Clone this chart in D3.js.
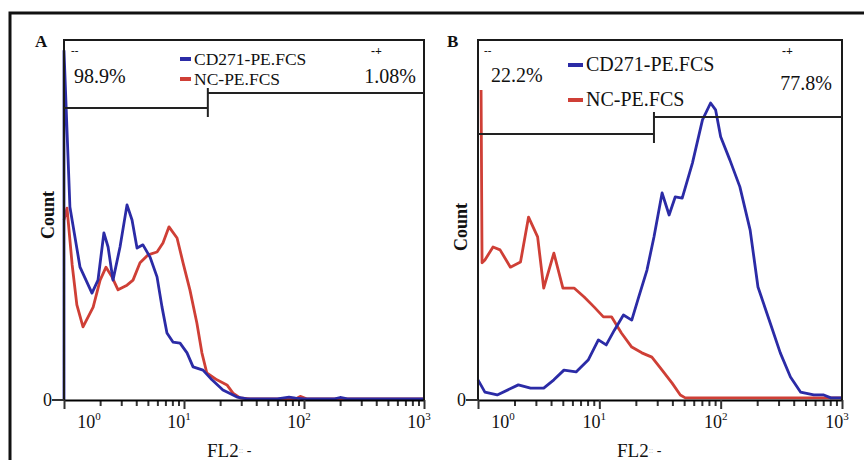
<!DOCTYPE html>
<html>
<head>
<meta charset="utf-8">
<script src="https://cdn.jsdelivr.net/npm/d3@7"></script>
<style>
  body { margin: 0; background: #fff; }
  svg text { font-family: "Liberation Serif", "Times New Roman", serif; fill: #111; }
</style>
</head>
<body>
<svg id="chart" width="864" height="460"></svg>
<script>
// --- data (FL2 value, count in % of axis height) ---
const seriesNames = ["CD271-PE.FCS", "NC-PE.FCS"];
const seriesColors = ["#2b2ba6", "#cf3f36"];
const xTickValues = [1, 10, 100, 1000];

// panel A
const blueA_x = [1, 1, 1.12, 1.36, 1.71, 1.92, 2.15, 2.33, 2.56, 2.93, 3.35, 3.69, 4.06, 4.55, 5.21, 5.96, 6.56, 7.21, 8.09, 9.27, 10.6, 11.9, 14.4, 17.1, 21.1, 27.7, 33.5, 60, 75, 85, 100, 180, 200, 230, 1000];
const blueA_y = [0, 97, 53.6, 36.9, 29.7, 33.3, 46.4, 42.5, 33.3, 42.5, 54.2, 50, 42.2, 43.1, 39.7, 34.2, 25.8, 18.6, 16.1, 15.8, 13.1, 9.2, 8.3, 5.6, 2.8, 0.8, 0.3, 0.3, 0.8, 0.5, 0.3, 0.3, 0.7, 0.3, 0.3];
const redA_x = [1, 1.06, 1.17, 1.28, 1.44, 1.75, 2.0, 2.24, 2.51, 2.82, 3.35, 3.76, 4.3, 5.01, 5.96, 6.68, 7.5, 8.75, 9.82, 11.2, 12.8, 14.1, 15.5, 18.8, 22.8, 25.6, 29.3, 35.5, 85, 93, 105, 1000];
const redA_y = [50, 53.3, 37.5, 26.4, 20.3, 25.8, 33.3, 36.9, 34.2, 30.6, 31.9, 33.3, 38.1, 40.3, 41.1, 43.6, 48.1, 45, 38.1, 30.6, 21.4, 13.1, 7.5, 5.6, 4.2, 1.9, 0.6, 0.3, 0.3, 1.0, 0.3, 0.3];

// panel B
const blueB_x = [1, 1.14, 1.44, 2.15, 2.71, 3.48, 4.22, 5.11, 6.43, 8.09, 9.82, 11.4, 13.3, 15.8, 18.5, 21.1, 24.7, 28.2, 32.9, 37.6, 42.2, 48.2, 58.5, 70.8, 82.6, 90.8, 100, 119, 144, 175, 203, 256, 310, 376, 455, 585, 708, 809, 1000];
const blueB_y = [5.6, 2.2, 1.4, 4.2, 3.3, 3.3, 5.6, 8.3, 7.8, 11.1, 16.7, 15.3, 19.4, 23.6, 22.2, 28.6, 36.1, 45.3, 57.5, 51.4, 56.4, 56.1, 65.8, 77.8, 82.5, 80.6, 73.1, 66.7, 59.2, 47.2, 31.4, 21.4, 13.1, 6.4, 2.2, 1.4, 1.4, 0.6, 0.6];
const redB_x = [1.06, 1.08, 1.14, 1.33, 1.52, 1.85, 2.24, 2.61, 3.1, 3.48, 4.22, 5.01, 6.19, 7.5, 9.08, 10.8, 12.6, 15.2, 18.5, 22.4, 27.1, 32.9, 39.8, 46.5, 51.1, 1000];
const redB_y = [86.1, 38.1, 38.9, 42.5, 41.7, 36.9, 38.3, 50.8, 45.3, 31.1, 40.8, 31.1, 31.1, 28.6, 25.8, 23.1, 23.1, 18.6, 14.7, 13.1, 11.9, 8.3, 4.7, 1.4, 0.6, 0.6];

const gateValues = [15.8, 28.2];
const leftPercents = ["98.9%", "22.2%"];
const rightPercents = ["1.08%", "77.8%"];

const svg = d3.select("#chart");

// outer frame (cut off at right and bottom)
svg.append("path")
  .attr("d", "M10,460 V13 H864")
  .attr("fill", "none").attr("stroke", "#111").attr("stroke-width", 3);

function zip(xs, ys) { return xs.map((v, i) => ({ x: v, y: ys[i] })); }

function drawPanel(p) {
  const x = d3.scaleLog().domain([1, 1000]).range([p.left, p.right]);
  const y = d3.scaleLinear().domain([0, 100]).range([400, 40]);
  const g = svg.append("g");

  // curves: red first, blue on top
  const line = d3.line().x(d => x(d.x)).y(d => y(d.y));
  [p.red, p.blue].forEach((d, i) => {
    g.append("path").datum(d)
      .attr("d", line)
      .attr("fill", "none")
      .attr("stroke", i === 0 ? seriesColors[1] : seriesColors[0])
      .attr("stroke-width", 2.8)
      .attr("stroke-linejoin", "round");
  });

  // plot box
  g.append("path")
    .attr("d", `M${p.left},400 V40 H${p.right} V400`)
    .attr("fill", "none").attr("stroke", "#1a1a1a").attr("stroke-width", 2);

  // x axis: minor ticks then major ticks
  const minor = [];
  [1, 10, 100].forEach(d => { for (let k = 2; k <= 9; k++) minor.push(d * k); });
  g.append("g").attr("transform", "translate(0,400)")
    .call(d3.axisBottom(x).tickValues(minor).tickSize(6).tickFormat(""))
    .call(a => a.select(".domain").remove());
  g.append("g").attr("transform", "translate(0,400)")
    .call(d3.axisBottom(x).tickValues(xTickValues).tickSize(9).tickFormat("").tickSizeOuter(0))
    .call(a => a.select(".domain").attr("stroke-width", 2));
  g.selectAll(".tick line").attr("stroke", "#333").attr("stroke-width", 2);

  xTickValues.forEach((v, i) => {
    const t = g.append("text")
      .attr("x", x(v) + (i === 0 ? 25 : -5))
      .attr("y", 428)
      .attr("text-anchor", "middle")
      .attr("font-size", 18);
    t.append("tspan").text("10");
    t.append("tspan").attr("font-size", 11).attr("dy", -8).text(i);
  });

  // y zero tick + label
  g.append("line").attr("x1", p.left - 12).attr("x2", p.left).attr("y1", y(0)).attr("y2", y(0))
    .attr("stroke", "#333").attr("stroke-width", 2);
  g.append("text").attr("x", p.left - 12).attr("y", 406).attr("text-anchor", "end")
    .attr("font-size", 18).text("0");

  // axis titles
  g.append("text")
    .attr("transform", `translate(${p.countX},${p.countY}) rotate(-90)`)
    .attr("text-anchor", "middle").attr("font-size", 18).attr("font-weight", "bold")
    .text("Count");
  const fl = g.append("text").attr("x", p.flX).attr("y", 457).attr("font-size", 19);
  fl.append("tspan").text("FL2");
  fl.append("tspan").attr("font-size", 8).attr("fill", "#aaa").attr("dy", -4).text("::");
  fl.append("tspan").attr("font-size", 14).attr("dy", 2).text(" -");

  // panel letter
  g.append("text").attr("x", p.letterX).attr("y", 47)
    .attr("font-size", 17).attr("font-weight", "bold").text(p.letter);

  // gates
  const gx = x(p.gate);
  g.append("line").attr("x1", p.left).attr("x2", gx).attr("y1", p.leftGateY).attr("y2", p.leftGateY)
    .attr("stroke", "#222").attr("stroke-width", 2);
  g.append("line").attr("x1", gx).attr("x2", p.right).attr("y1", p.rightGateY).attr("y2", p.rightGateY)
    .attr("stroke", "#222").attr("stroke-width", 2);
  g.append("line").attr("x1", gx).attr("x2", gx).attr("y1", p.rightGateY - 5).attr("y2", p.leftGateY + 9)
    .attr("stroke", "#222").attr("stroke-width", 2);

  g.append("text").attr("x", p.markL).attr("y", 54).attr("font-size", 11)
    .attr("font-weight", "bold").attr("fill", "#444").text("--");
  g.append("text").attr("x", p.markR).attr("y", 55).attr("font-size", 12)
    .attr("font-weight", "bold").attr("fill", "#333").text("-+");

  g.append("text").attr("x", p.pctLX).attr("y", p.pctLY).attr("font-size", 20).text(p.pctL);
  g.append("text").attr("x", p.pctRX).attr("y", p.pctRY).attr("font-size", 20)
    .attr("text-anchor", "end").text(p.pctR);

  // legend
  seriesNames.forEach((name, i) => {
    g.append("line")
      .attr("x1", p.legX).attr("x2", p.legX + p.dashW)
      .attr("y1", p.legY[i]).attr("y2", p.legY[i])
      .attr("stroke", seriesColors[i]).attr("stroke-width", 4);
    g.append("text").attr("x", p.legX + p.dashW + 3).attr("y", p.legY[i] + 6)
      .attr("font-size", p.legFont).text(name);
  });
}

drawPanel({
  left: 64, right: 424, letter: "A", letterX: 35,
  blue: zip(blueA_x, blueA_y), red: zip(redA_x, redA_y),
  countX: 54, countY: 215, flX: 207,
  gate: gateValues[0], leftGateY: 108, rightGateY: 93,
  markL: 71, markR: 371,
  pctL: leftPercents[0], pctLX: 74, pctLY: 83,
  pctR: rightPercents[0], pctRX: 416, pctRY: 83,
  legX: 180, dashW: 11, legY: [59, 79], legFont: 17.5
});

drawPanel({
  left: 478, right: 842, letter: "B", letterX: 447,
  blue: zip(blueB_x, blueB_y), red: zip(redB_x, redB_y),
  countX: 467, countY: 227, flX: 617,
  gate: gateValues[1], leftGateY: 134, rightGateY: 117,
  markL: 484, markR: 782,
  pctL: leftPercents[1], pctLX: 491, pctLY: 82,
  pctR: rightPercents[1], pctRX: 832, pctRY: 90,
  legX: 568, dashW: 15, legY: [65, 100], legFont: 20
});
</script>
</body>
</html>
